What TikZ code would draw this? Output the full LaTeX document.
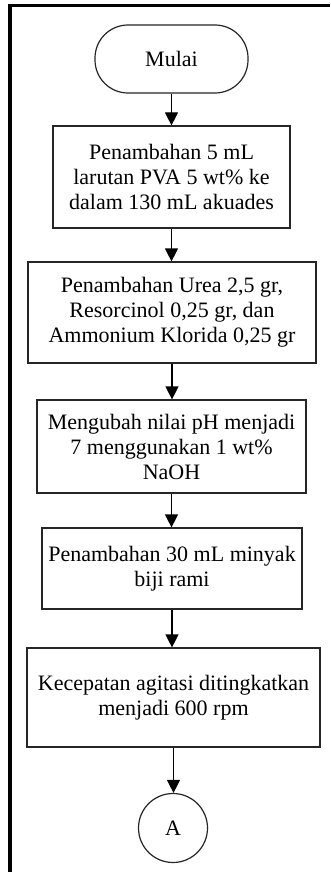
\documentclass[tikz,border=0pt]{standalone}
\usepackage{fontspec}
\setmainfont{Liberation Serif}
\usetikzlibrary{arrows.meta}
\begin{document}
\begin{tikzpicture}[x=1pt,y=-1pt,
  every node/.style={font=\fontsize{22}{25}\selectfont, align=center, inner sep=0pt},
  procbox/.style={draw=black!85, line width=1.2pt, rectangle},
  termbox/.style={draw=black!85, line width=1.2pt, rectangle, rounded corners=33pt},
  connbox/.style={draw=black!85, line width=1.2pt, circle},
  flow/.style={line width=1.2pt, -{Triangle[width=13pt,length=13pt]}},
  frame/.style={line width=3.5pt}]
\useasboundingbox (0,0) rectangle (330,872);
\fill[white] (0,0) rectangle (330,872);
\draw[frame] (10,872) -- (10,5.5) -- (330,5.5);
\node[termbox, minimum width=153pt, minimum height=68pt] (t) at (171.5,59) {Mulai};
\node[procbox, minimum width=237pt, minimum height=102pt] (b1) at (171.5,177) {Penambahan 5 mL\\larutan PVA 5 wt\% ke\\dalam 130 mL akuades};
\node[procbox, minimum width=288pt, minimum height=101pt] (b2) at (172,312.5) {Penambahan Urea 2,5 gr,\\Resorcinol 0,25 gr, dan\\Ammonium Klorida 0,25 gr};
\node[procbox, minimum width=269pt, minimum height=93pt] (b3) at (171.5,446.5) {Mengubah nilai pH menjadi\\7 menggunakan 1 wt\%\\NaOH};
\node[procbox, minimum width=260pt, minimum height=81pt] (b4) at (172,568.5) {Penambahan 30 mL minyak\\biji rami};
\node[procbox, minimum width=293pt, minimum height=99pt] (b5) at (173.5,697.5) {Kecepatan agitasi ditingkatkan\\menjadi 600 rpm};
\node[connbox, minimum size=69pt] (c) at (173,828) {A};
\draw[flow] (t.south) -- (t.south |- b1.north);
\draw[flow] (b1.south) -- (b1.south |- b2.north);
\draw[flow] (b2.south) -- (b2.south |- b3.north);
\draw[flow] (b3.south) -- (b3.south |- b4.north);
\draw[flow] (b4.south) -- (b4.south |- b5.north);
\draw[flow] (b5.south) -- (b5.south |- c.north);
\end{tikzpicture}
\end{document}
